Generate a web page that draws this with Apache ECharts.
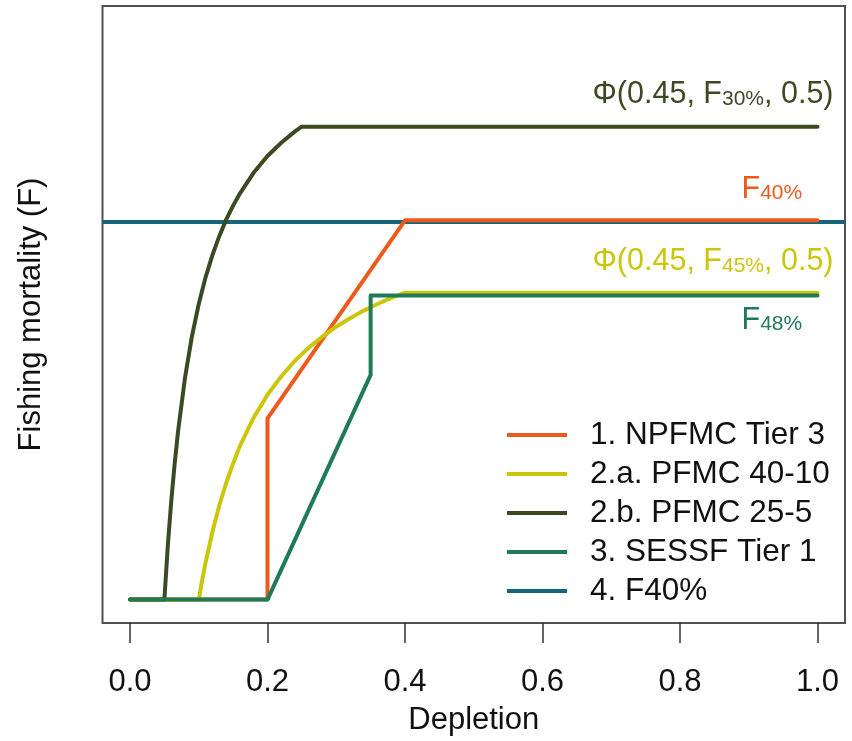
<!DOCTYPE html>
<html><head><meta charset="utf-8">
<script src="https://cdn.jsdelivr.net/npm/echarts@6/dist/echarts.min.js"></script>
<style>html,body{margin:0;padding:0;background:#fff}#c{width:852px;height:741px}</style>
</head><body><div id="c"></div>
<script>
// ---------- data ----------
const xTicks = [0.0, 0.2, 0.4, 0.6, 0.8, 1.0];
const legendNames = ['1. NPFMC Tier 3', '2.a. PFMC 40-10', '2.b. PFMC 25-5', '3. SESSF Tier 1', '4. F40%'];

const npfmcX = [0, 0.2, 0.2, 0.4, 1.0];
const npfmcY = [0, 0, 0.383, 0.802, 0.802];

const pfmc4010X = [0, 0.10, 0.105, 0.11, 0.12, 0.13, 0.14, 0.15, 0.16, 0.18, 0.20, 0.22, 0.24, 0.26, 0.28, 0.30, 0.32, 0.34, 0.36, 0.38, 0.40, 1.0];
const pfmc4010Y = [0, 0, 0.041, 0.079, 0.144, 0.200, 0.247, 0.288, 0.325, 0.385, 0.433, 0.472, 0.505, 0.533, 0.556, 0.577, 0.595, 0.611, 0.625, 0.638, 0.649, 0.649];

const pfmc255X = [0, 0.05, 0.055, 0.06, 0.065, 0.07, 0.08, 0.09, 0.10, 0.11, 0.12, 0.13, 0.14, 0.15, 0.16, 0.18, 0.20, 0.22, 0.24, 0.25, 1.0];
const pfmc255Y = [0, 0, 0.114, 0.208, 0.288, 0.357, 0.469, 0.556, 0.625, 0.682, 0.729, 0.769, 0.804, 0.833, 0.859, 0.903, 0.938, 0.966, 0.990, 1.0, 1.0];

const sessfX = [0, 0.2, 0.35, 0.35, 1.0];
const sessfY = [0, 0, 0.475, 0.643, 0.643];

const f40Level = 0.802;

// annotation labels: [main part, subscript, tail, level]
const labelPhi30 = ['Φ(0.45, F', '30%', ', 0.5)', 1.0];
const labelF40 = ['F', '40%', '', 0.802];
const labelPhi45 = ['Φ(0.45, F', '45%', ', 0.5)', 0.649];
const labelF48 = ['F', '48%', '', 0.643];

// ---------- styling ----------
const FONT = 'Liberation Sans, Arial, Helvetica, sans-serif';
const FS = 31;
const C_ORANGE = '#EE5A1C';
const C_YELLOW = '#CCC60A';
const C_OLIVE = '#3B4A22';
const C_GREEN = '#1F7A56';
const C_TEAL = '#16657A';
const LW = 4;

const zip = (xs, ys) => xs.map((x, i) => [x, ys[i]]);

function lineSeries(name, xs, ys, color, z) {
  return {
    name, type: 'line', data: zip(xs, ys), showSymbol: false, symbol: 'none',
    lineStyle: { color, width: LW, cap: 'round', join: 'round' },
    itemStyle: { color }, z, silent: true, animation: false
  };
}

const chart = echarts.init(document.getElementById('c'), null, { renderer: 'canvas' });

const option = {
  animation: false,
  backgroundColor: '#fff',
  grid: { left: 102.5, right: 7, top: 6, bottom: 116.5, show: true, borderColor: '#505050', borderWidth: 2, containLabel: false },
  xAxis: {
    type: 'value', min: -0.04, max: 1.04,
    name: 'Depletion', nameLocation: 'middle', nameGap: 82,
    nameTextStyle: { fontSize: FS, fontFamily: FONT, color: '#111' },
    axisLine: { show: false, onZero: false },
    axisTick: { show: true, inside: false, length: 20, customValues: xTicks, lineStyle: { color: '#333', width: 1.5 } },
    axisLabel: { customValues: xTicks, formatter: v => v.toFixed(1), fontSize: FS, fontFamily: FONT, color: '#111', margin: 44 },
    splitLine: { show: false }
  },
  yAxis: {
    type: 'value', min: -0.0496, max: 1.2552,
    name: 'Fishing mortality (F)', nameLocation: 'middle', nameGap: 56, nameRotate: 90,
    nameTextStyle: { fontSize: FS, fontFamily: FONT, color: '#111' },
    axisLine: { show: false, onZero: false }, axisTick: { show: false }, axisLabel: { show: false }, splitLine: { show: false }
  },
  legend: {
    orient: 'vertical', left: 502, top: 414, itemWidth: 60, itemHeight: 4, itemGap: 7,
    icon: 'rect', selectedMode: false, data: legendNames,
    textStyle: { fontSize: 31.5, fontFamily: FONT, color: '#111', lineHeight: 31, padding: [0, 0, 0, 18] }
  },
  series: [
    {
      name: legendNames[4], type: 'line', data: [], symbol: 'none',
      lineStyle: { color: C_TEAL, width: LW }, itemStyle: { color: C_TEAL }, z: 1,
      markLine: { symbol: 'none', silent: true, animation: false, z: 1, label: { show: false },
        lineStyle: { color: C_TEAL, width: LW, type: 'solid' }, data: [{ yAxis: f40Level }] }
    },
    lineSeries(legendNames[0], npfmcX, npfmcY, C_ORANGE, 6),
    lineSeries(legendNames[1], pfmc4010X, pfmc4010Y, C_YELLOW, 7),
    lineSeries(legendNames[2], pfmc255X, pfmc255Y, C_OLIVE, 8),
    lineSeries(legendNames[3], sessfX, sessfY, C_GREEN, 9)
  ]
};
chart.setOption(option);

// ---------- annotations positioned from data coordinates ----------
function richLabel(lbl, color, anchorX, baselineY, align) {
  const text = '{m|' + lbl[0] + '}{s|' + lbl[1] + '}' + (lbl[2] ? '{m|' + lbl[2] + '}' : '');
  return {
    type: 'text', z: 100, silent: true,
    x: anchorX, y: baselineY - 25.4,
    style: {
      text, align, verticalAlign: 'top',
      rich: {
        m: { fontSize: 30.5, lineHeight: 30, verticalAlign: 'top', fontFamily: FONT, fill: color, color },
        s: { fontSize: 21, lineHeight: 21, padding: [15, 0, 0, 0], verticalAlign: 'bottom', fontFamily: FONT, fill: color, color }
      }
    }
  };
}
const pR = (lvl) => chart.convertToPixel({ gridIndex: 0 }, [1.0, lvl]);
const a1 = pR(labelPhi30[3]), a2 = pR(labelF40[3]), a3 = pR(labelPhi45[3]), a4 = pR(labelF48[3]);
chart.setOption({
  graphic: [
    richLabel(labelPhi30, C_OLIVE, a1[0] + 16, a1[1] - 22, 'right'),
    richLabel(labelF40, C_ORANGE, a2[0] - 76, a2[1] - 21, 'left'),
    richLabel(labelPhi45, C_YELLOW, a3[0] + 16, a3[1] - 21, 'right'),
    richLabel(labelF48, C_GREEN, a4[0] - 76, a4[1] + 35, 'left')
  ]
});
</script></body></html>
